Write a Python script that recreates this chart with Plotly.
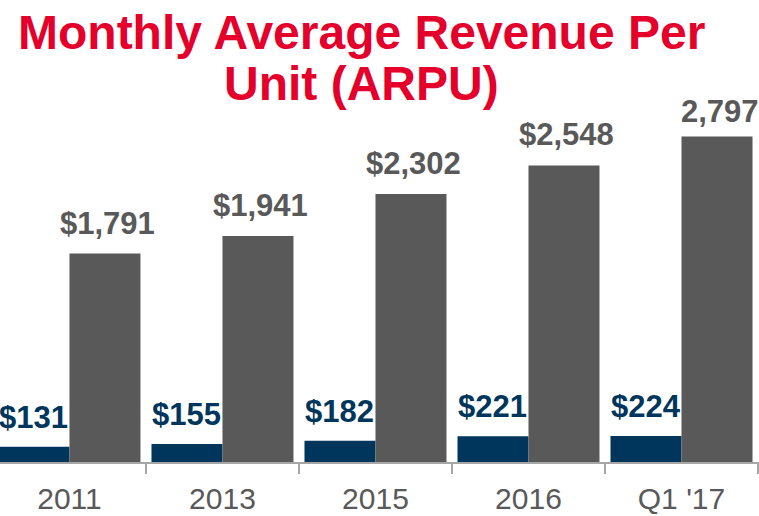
import plotly.graph_objects as go

categories = ["2011", "2013", "2015", "2016", "Q1 '17"]
navy_values = [131, 155, 182, 221, 224]
gray_values = [1791, 1941, 2302, 2548, 2797]
navy_labels = ["$131", "$155", "$182", "$221", "$224"]
gray_labels = ["$1,791", "$1,941", "$2,302", "$2,548", "2,797"]
title_lines = ["Monthly Average Revenue Per", "Unit (ARPU)"]

NAVY = "#00365C"
GRAY = "#595959"
RED = "#E4002B"
AXIS = "#A6A6A6"
FONT = "Liberation Sans, Arial, sans-serif"

W, H = 759, 516
MB = 54
plot_h = H - MB
ymax = 3969
off = 0.232  # half of a bar width in category units

fig = go.Figure()
fig.add_trace(go.Bar(x=categories, y=navy_values, marker=dict(color=NAVY, line=dict(width=0)),
                     hoverinfo="skip"))
fig.add_trace(go.Bar(x=categories, y=gray_values, marker=dict(color=GRAY, line=dict(width=0)),
                     hoverinfo="skip"))

annotations = []
for i, (v, t) in enumerate(zip(navy_values, navy_labels)):
    annotations.append(dict(x=i - off, y=v, xref="x", yref="y", text=t, showarrow=False,
                            yanchor="bottom", yshift=10,
                            font=dict(family=FONT, size=31, color=NAVY, weight="bold")))
gray_shift = [11, 11, 11, 11, 5]
for i, (v, t) in enumerate(zip(gray_values, gray_labels)):
    annotations.append(dict(x=i + off, y=v, xref="x", yref="y", text=t, showarrow=False,
                            yanchor="bottom", yshift=gray_shift[i], xshift=3,
                            font=dict(family=FONT, size=31, color=GRAY, weight="bold")))
for line, ypx in zip(title_lines, [32.5, 83.3]):
    annotations.append(dict(x=361 / W, y=1 - ypx / plot_h, xref="paper", yref="paper",
                            text=line, showarrow=False, xanchor="center", yanchor="middle",
                            font=dict(family=FONT, size=48, color=RED, weight="bold")))

fig.update_layout(
    template="none",
    width=W, height=H,
    margin=dict(l=0, r=0, t=0, b=MB, pad=0, autoexpand=False),
    paper_bgcolor="white", plot_bgcolor="white",
    barmode="group", bargap=0.072, bargroupgap=0,
    showlegend=False,
    annotations=annotations,
    xaxis=dict(type="category", range=[-0.454, 4.5065], showgrid=False, zeroline=False,
               automargin=False,
               showline=True, linecolor=AXIS, linewidth=1.5,
               ticks="outside", tickson="boundaries", ticklen=10, tickcolor=AXIS, tickwidth=1.5,
               ticklabelstandoff=9,
               tickfont=dict(family=FONT, size=30, color=GRAY)),
    yaxis=dict(range=[0, ymax], visible=False, showgrid=False, zeroline=False, automargin=False),
)

fig.write_html("out.html", config={"displayModeBar": False},
               post_script="document.body.style.margin='0';document.body.style.overflow='hidden';")
